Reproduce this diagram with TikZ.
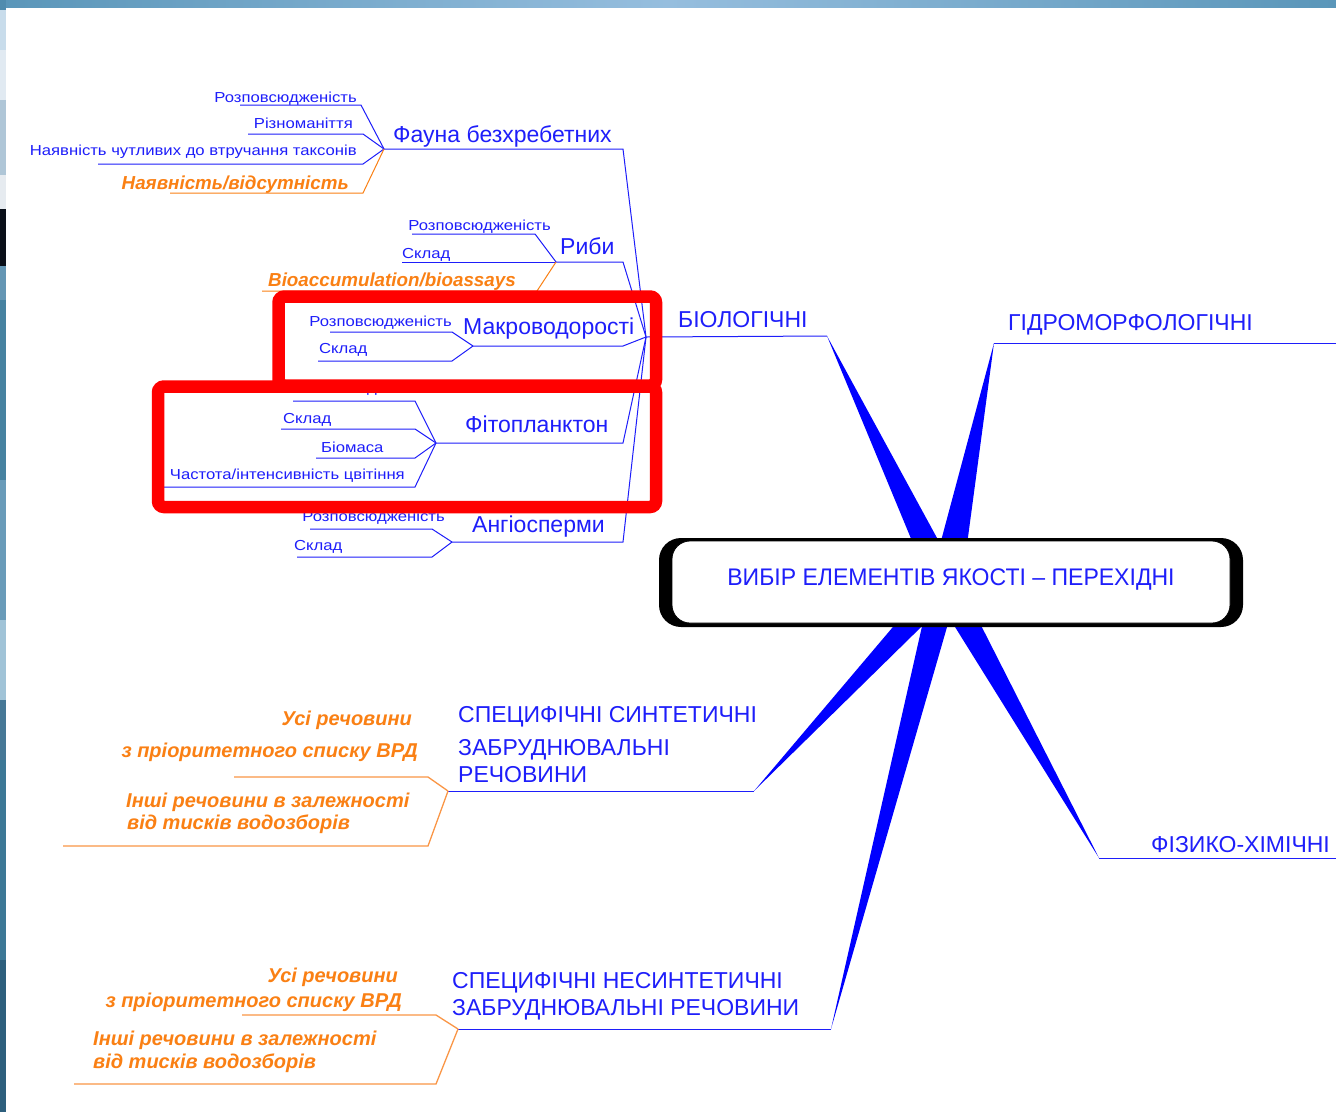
\documentclass[tikz,border=0pt]{standalone}
\usepackage{fontspec}
\setmainfont{Liberation Sans}
\newfontfamily\widefam[FakeStretch=1.15]{Liberation Sans}
\newfontfamily\narrowfam[FakeStretch=0.96]{Liberation Sans}
\definecolor{lblue}{RGB}{30,30,250}
\definecolor{wblue}{RGB}{0,0,255}
\definecolor{orng}{RGB}{250,128,20}
\definecolor{orline}{RGB}{250,150,70}
\definecolor{stripA}{RGB}{90,150,185}
\definecolor{stripB}{RGB}{150,190,222}
\begin{document}
\begin{tikzpicture}[x=1pt,y=-1pt,
  bl/.style={draw=lblue, line width=1pt},
  ol/.style={draw=orng, line width=1pt},
  olb/.style={draw=orline, line width=1.3pt},
  wedge/.style={fill=wblue, draw=none},
  stxt/.style={text=lblue, inner sep=0pt, yshift=-2.5pt, font=\widefam\fontsize{14.5}{16}\selectfont},
  mtxt/.style={text=lblue, inner sep=0pt, yshift=-4.5pt, font=\fontsize{23}{25}\selectfont},
  ctxt/.style={text=lblue, inner sep=0pt, yshift=-4.5pt, font=\fontsize{23}{25}\selectfont},
  otxt/.style={text=orng, inner sep=0pt, yshift=-3.5pt, font=\fontsize{18.8}{21}\selectfont\bfseries\itshape},
  obtxt/.style={text=orng, inner sep=0pt, yshift=-4.5pt, font=\fontsize{20}{22}\selectfont\bfseries\itshape},
  redbox/.style={draw=red, line width=12.5pt, rounded corners=6pt}
]
\useasboundingbox (0,0) rectangle (1336,1112);
\fill[white] (0,0) rectangle (1336,1112);
% frame strips
\shade[left color=stripA, right color=stripA, middle color=stripB] (0,0) rectangle (1336,7);
\fill[color={rgb,255:red,80;green,140;blue,175}] (0,0) rectangle (6,10);
\fill[color={rgb,255:red,200;green,220;blue,235}] (0,10) rectangle (6,50);
\fill[color={rgb,255:red,225;green,234;blue,242}] (0,50) rectangle (6,100);
\fill[color={rgb,255:red,175;green,198;blue,215}] (0,100) rectangle (6,175);
\fill[color={rgb,255:red,230;green,235;blue,240}] (0,175) rectangle (6,209);
\fill[color={rgb,255:red,10;green,15;blue,25}] (0,209) rectangle (6,266);
\fill[color={rgb,255:red,100;green,150;blue,180}] (0,266) rectangle (6,300);
\fill[color={rgb,255:red,70;green,130;blue,160}] (0,300) rectangle (6,480);
\fill[color={rgb,255:red,105;green,155;blue,185}] (0,480) rectangle (6,620);
\fill[color={rgb,255:red,160;green,195;blue,215}] (0,620) rectangle (6,700);
\fill[color={rgb,255:red,70;green,120;blue,150}] (0,700) rectangle (6,760);
\fill[color={rgb,255:red,60;green,120;blue,150}] (0,760) rectangle (6,960);
\fill[color={rgb,255:red,45;green,95;blue,125}] (0,960) rectangle (6,1112);

% ---------- coordinates ----------
\coordinate (B) at (646,337);
\coordinate (F) at (384,149);
\coordinate (R) at (556,262);
\coordinate (M) at (473,346);
\coordinate (P) at (436,443);
\coordinate (A) at (452,542);
\coordinate (Fe) at (623,149);
\coordinate (Re) at (623,262);
\coordinate (Me) at (623,346);
\coordinate (Pe) at (623,443);
\coordinate (Ae) at (623,542);
\coordinate (Be) at (827,336);
\coordinate (G) at (994,343);
\coordinate (Ge) at (1336,343);
\coordinate (H) at (1099,858);
\coordinate (He) at (1336,858);
\coordinate (S) at (448,791);
\coordinate (Se) at (754,791);
\coordinate (N) at (458,1029);
\coordinate (Ne) at (831,1029);

% ---------- wedges ----------
\fill[wedge] (Be) -- (929,582) -- (961,582) -- cycle;
\fill[wedge] (G) -- (930,582) -- (962,582) -- cycle;
\fill[wedge] (H) -- (927,582) -- (959,582) -- cycle;
\fill[wedge] (Ne) -- (932,582) -- (960,582) -- cycle;
\fill[wedge] (Se) -- (931,582) -- (967,582) -- cycle;

% ---------- central box ----------
\fill[black, rounded corners=22pt] (659,538) rectangle (1243,627);
\filldraw[fill=white, draw=black, line width=0.8pt, rounded corners=18pt] (672,541) rectangle (1230,623);
\node[text=lblue, inner sep=0pt, yshift=-3pt, font=\narrowfam\fontsize{24}{26}\selectfont] (title) at (951,577) {ВИБІР ЕЛЕМЕНТІВ ЯКОСТІ – ПЕРЕХІДНІ};

% ---------- main branches ----------
\draw[bl] (B) -- (Be);
\node[ctxt, anchor=mid west] (bio) at (678,320) {БІОЛОГІЧНІ};
\draw[bl] (G) -- (Ge);
\node[ctxt, anchor=mid west] (gidro) at (1008,323) {ГІДРОМОРФОЛОГІЧНІ};
\draw[bl] (H) -- (He);
\node[ctxt, anchor=mid west] (phys) at (1151,845) {ФІЗИКО-ХІМІЧНІ};
\draw[bl] (S) -- (Se);
\node[ctxt, anchor=mid west] (syn1) at (458,715) {СПЕЦИФІЧНІ СИНТЕТИЧНІ};
\node[ctxt, anchor=mid west] (syn2) at (458,748) {ЗАБРУДНЮВАЛЬНІ};
\node[ctxt, anchor=mid west] (syn3) at (458,775) {РЕЧОВИНИ};
\draw[bl] (N) -- (Ne);
\node[ctxt, anchor=mid west] (ns1) at (452,981) {СПЕЦИФІЧНІ НЕСИНТЕТИЧНІ};
\node[ctxt, anchor=mid west] (ns2) at (452,1008) {ЗАБРУДНЮВАЛЬНІ РЕЧОВИНИ};

% ---------- biological sub-branches ----------
\draw[bl] (F) -- (Fe) -- (B);
\draw[bl] (R) -- (Re) -- (B);
\draw[bl] (M) -- (Me) -- (B);
\draw[bl] (P) -- (Pe) -- (B);
\draw[bl] (A) -- (Ae) -- (B);
\node[mtxt, anchor=mid west] (fauna) at (393,135) {Фауна безхребетних};
\node[mtxt, anchor=mid west] (ryby) at (560,247) {Риби};
\node[mtxt, anchor=mid west] (makro) at (463,327) {Макроводорості};
\node[mtxt, anchor=mid west] (fito) at (465,425) {Фітопланктон};
\node[mtxt, anchor=mid west] (angio) at (472,525) {Ангіосперми};

% Fauna leaves
\coordinate (f1a) at (240,105); \coordinate (f1b) at (361,105);
\coordinate (f2a) at (248,134); \coordinate (f2b) at (363,134);
\coordinate (f3a) at (98,164);  \coordinate (f3b) at (363,164);
\coordinate (f4a) at (170,193); \coordinate (f4b) at (363,193);
\draw[bl] (f1a) -- (f1b) -- (F);
\draw[bl] (f2a) -- (f2b) -- (F);
\draw[bl] (f3a) -- (f3b) -- (F);
\draw[ol] (f4a) -- (f4b) -- (F);
\node[stxt, anchor=mid east] (ft1) at (357,97) {Розповсюдженість};
\node[stxt, anchor=mid east] (ft2) at (353,123) {Різноманіття};
\node[stxt, anchor=mid east] (ft3) at (357,150) {Наявність чутливих до втручання таксонів};
\node[otxt, anchor=mid east] (ft4) at (349,183) {Наявність/відсутність};

% Fish leaves
\coordinate (r1a) at (412,234); \coordinate (r1b) at (535,234);
\coordinate (r2a) at (402,262);
\coordinate (r3a) at (262,291); \coordinate (r3b) at (537,291);
\draw[bl] (r1a) -- (r1b) -- (R);
\draw[bl] (r2a) -- (R);
\draw[ol] (r3a) -- (r3b) -- (R);
\node[stxt, anchor=mid east] (rt1) at (551,225) {Розповсюдженість};
\node[stxt, anchor=mid west] (rt2) at (402,253) {Склад};
\node[otxt, anchor=mid east] (rt3) at (516,280) {Bioaccumulation/bioassays};

% Macroalgae leaves
\coordinate (m1a) at (330,332); \coordinate (m1b) at (452,332);
\coordinate (m2a) at (318,361); \coordinate (m2b) at (452,361);
\draw[bl] (m1a) -- (m1b) -- (M);
\draw[bl] (m2a) -- (m2b) -- (M);
\node[stxt, anchor=mid east] (mt1) at (452,321) {Розповсюдженість};
\node[stxt, anchor=mid west] (mt2) at (319,348) {Склад};

% Phytoplankton leaves
\coordinate (p1a) at (293,401); \coordinate (p1b) at (415,401);
\coordinate (p2a) at (281,429); \coordinate (p2b) at (415,429);
\coordinate (p3a) at (316,458); \coordinate (p3b) at (415,458);
\coordinate (p4a) at (160,487); \coordinate (p4b) at (415,487);
\draw[bl] (p1a) -- (p1b) -- (P);
\draw[bl] (p2a) -- (p2b) -- (P);
\draw[bl] (p3a) -- (p3b) -- (P);
\draw[bl] (p4a) -- (p4b) -- (P);
\node[stxt, anchor=mid east] (pt1) at (435,387) {Розповсюдженість};
\node[stxt, anchor=mid west] (pt2) at (283,418) {Склад};
\node[stxt, anchor=mid west] (pt3) at (321,447) {Біомаса};
\node[stxt, anchor=mid east] (pt4) at (405,474) {Частота/інтенсивність цвітіння};

% Angiosperm leaves
\coordinate (a1a) at (310,529); \coordinate (a1b) at (432,529);
\coordinate (a2a) at (297,557); \coordinate (a2b) at (432,557);
\draw[bl] (a1a) -- (a1b) -- (A);
\draw[bl] (a2a) -- (a2b) -- (A);
\node[stxt, anchor=mid east] (at1) at (445,516) {Розповсюдженість};
\node[stxt, anchor=mid west] (at2) at (294,545) {Склад};

% ---------- synthetic pollutants leaves ----------
\coordinate (s1a) at (234,777); \coordinate (s1b) at (428,777);
\coordinate (s2a) at (63,846);  \coordinate (s2b) at (428,846);
\draw[olb] (s1a) -- (s1b) -- (S);
\draw[olb] (s2a) -- (s2b) -- (S);
\node[obtxt, anchor=mid east] (st1) at (412,718) {Усі речовини};
\node[obtxt, anchor=mid east] (st2) at (418,750) {з пріоритетного списку ВРД};
\node[obtxt, anchor=mid west] (st3) at (126,800) {Інші речовини в залежності};
\node[obtxt, anchor=mid west] (st4) at (127,822) {від тисків водозборів};

% ---------- non-synthetic pollutants leaves ----------
\coordinate (n1a) at (242,1015); \coordinate (n1b) at (436,1015);
\coordinate (n2a) at (74,1084);  \coordinate (n2b) at (436,1084);
\draw[olb] (n1a) -- (n1b) -- (N);
\draw[olb] (n2a) -- (n2b) -- (N);
\node[obtxt, anchor=mid east] (nt1) at (398,975) {Усі речовини};
\node[obtxt, anchor=mid east] (nt2) at (402,1000) {з пріоритетного списку ВРД};
\node[obtxt, anchor=mid west] (nt3) at (93,1038) {Інші речовини в залежності};
\node[obtxt, anchor=mid west] (nt4) at (93,1061) {від тисків водозборів};

% ---------- red highlight frames ----------
\draw[redbox] (278.5,296.5) rectangle (656,385.5);
\draw[redbox] (158,386.5) rectangle (656,507);
\end{tikzpicture}
\end{document}
